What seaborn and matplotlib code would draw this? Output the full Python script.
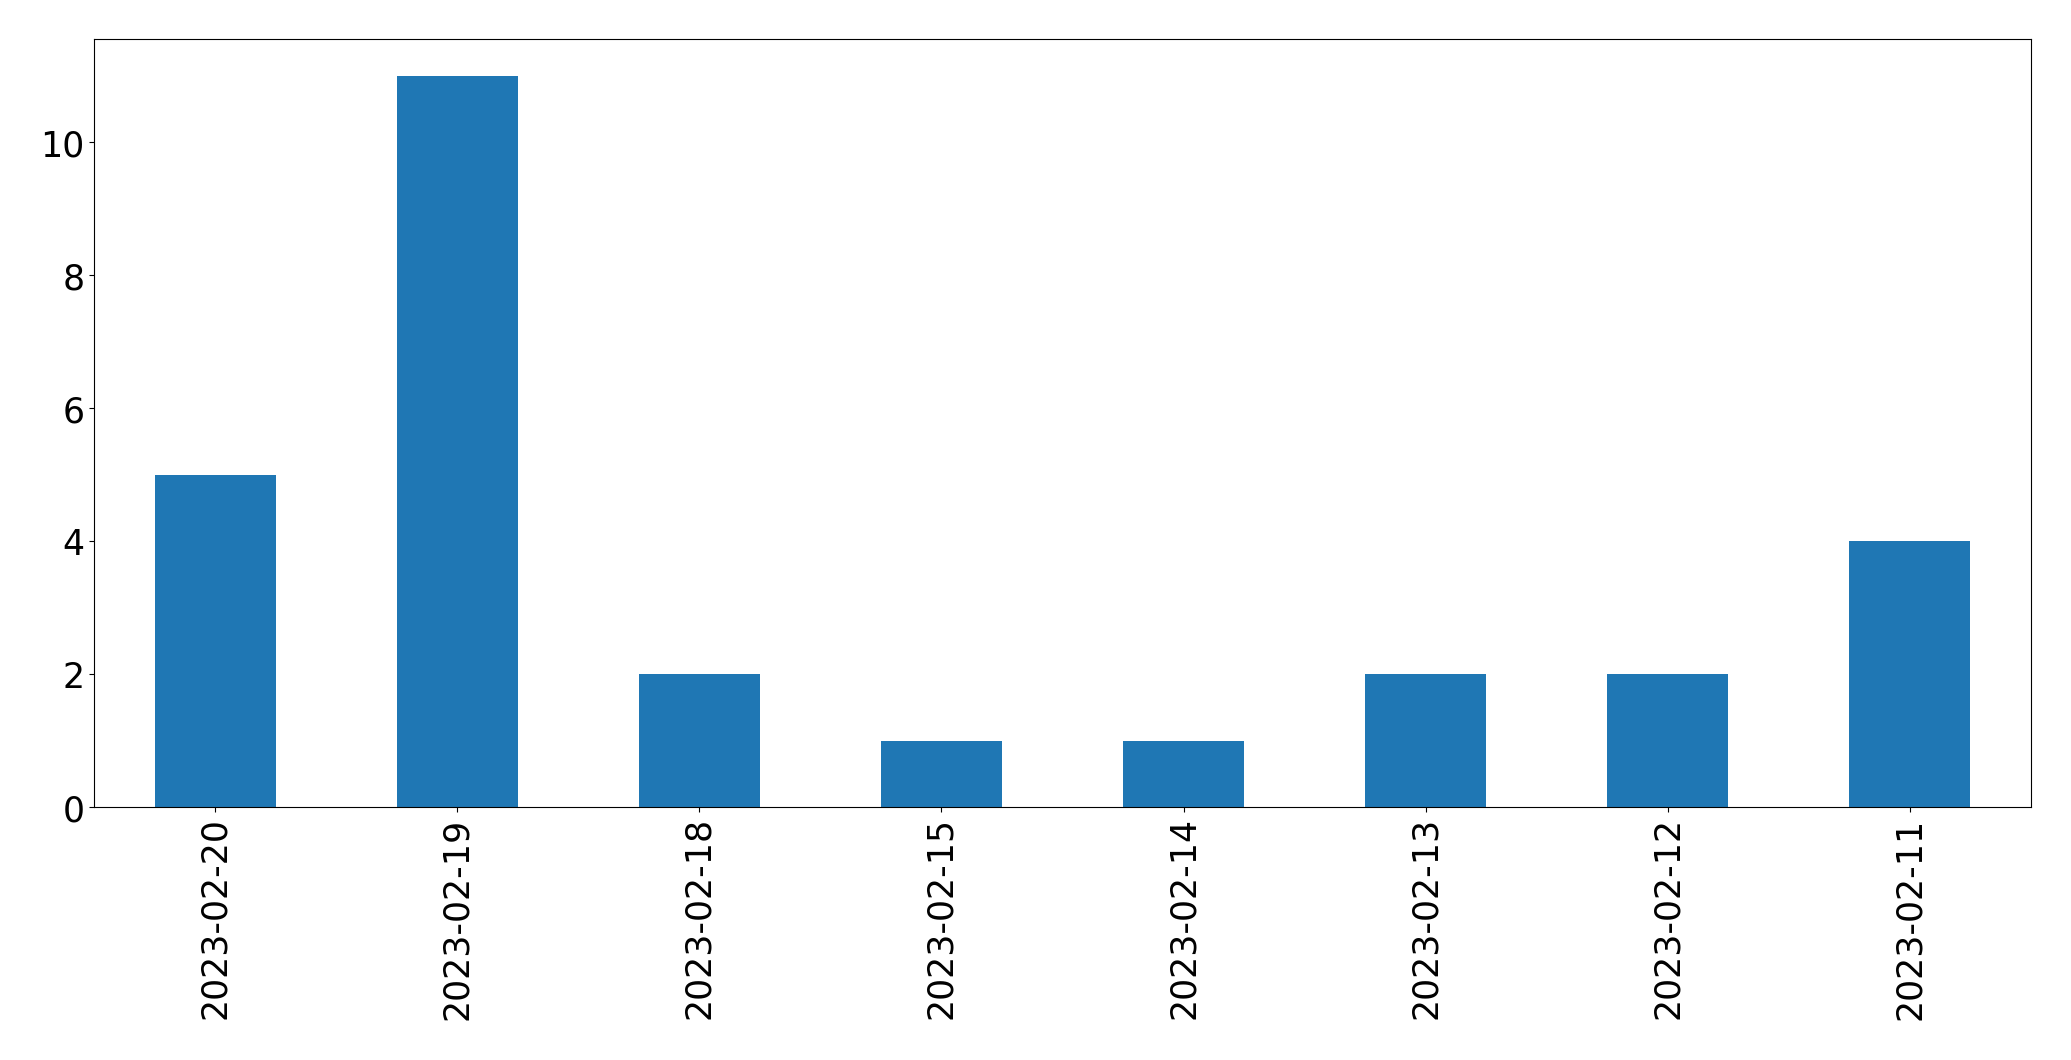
import pandas as pd
import matplotlib
matplotlib.use('Agg')
import matplotlib.pyplot as plt
import seaborn as sns

# Data
dates = ['2023-02-20', '2023-02-19', '2023-02-18', '2023-02-15',
         '2023-02-14', '2023-02-13', '2023-02-12', '2023-02-11']
counts = [5, 11, 2, 1, 1, 2, 2, 4]

df = pd.DataFrame({'date': dates, 'count': counts})

fig, ax = plt.subplots(figsize=(20.71, 10.605), dpi=100)
sns.barplot(data=df, x='date', y='count', order=dates, color='#1f77b4',
            saturation=1, width=0.5, linewidth=0, ax=ax)

ax.set_xlim(-0.5, len(dates) - 0.5)
ax.set_ylim(0, max(counts) * 1.05)
ax.set_xlabel('')
ax.set_ylabel('')
ax.tick_params(axis='both', labelsize=25)
plt.setp(ax.get_xticklabels(), rotation=90)

plt.subplots_adjust(left=0.0454, right=0.9807, top=0.9623, bottom=0.2385)
plt.savefig('out.png', dpi=100)
